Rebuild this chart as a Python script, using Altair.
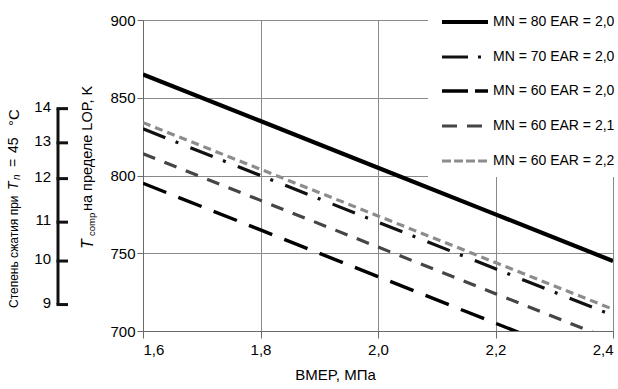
import altair as alt
import pandas as pd

# ---- data ----
bmep = [1.6, 1.8, 2.0, 2.2, 2.4]
mn80_ear20 = [865, 835, 805, 775, 745]
mn70_ear20 = [830, 800, 770, 740, 710]
mn60_ear20 = [795, 765, 735, 705, 675]
mn60_ear21 = [814, 784, 754, 724, 694]
mn60_ear22 = [834, 804, 774, 744, 714]

series_names = ["MN = 80 EAR = 2,0", "MN = 70 EAR = 2,0", "MN = 60 EAR = 2,0",
                "MN = 60 EAR = 2,1", "MN = 60 EAR = 2,2"]
series_values = [mn80_ear20, mn70_ear20, mn60_ear20, mn60_ear21, mn60_ear22]

# compression ratio scale (left auxiliary axis) and its equivalent Tcomp position
cr_labels = ["9", "10", "11", "12", "13", "14"]
cr_tcomp = [717, 745, 770, 798, 821, 843]

x_ticks = [1.6, 1.8, 2.0, 2.2, 2.4]
y_ticks = [700, 750, 800, 850, 900]

FONT = "Liberation Sans, Arial, sans-serif"

styles = [
    dict(color="#000000", strokeWidth=4.2, dash=None, ldash=None),
    dict(color="#111111", strokeWidth=3.2, dash=[24, 11, 3, 13], ldash=[26, 10, 3, 20]),
    dict(color="#000000", strokeWidth=3.4, dash=[25, 13], ldash=[26, 7]),
    dict(color="#454545", strokeWidth=3.2, dash=[13, 10], ldash=[15, 10]),
    dict(color="#8c8c8c", strokeWidth=3.2, dash=[8, 5], ldash=[9, 3]),
]

xs = alt.Scale(domain=[1.6, 2.4], nice=False, zero=False)
ys = alt.Scale(domain=[700, 900], nice=False, zero=False)

layers = []
for i, (name, vals) in enumerate(zip(series_names, series_values)):
    df = pd.DataFrame({"bmep": bmep, "t": vals})
    st = styles[i]
    kw = dict(color=st["color"], strokeWidth=st["strokeWidth"], clip=True)
    if st["dash"]:
        kw["strokeDash"] = st["dash"]
    enc = dict(
        x=alt.X("bmep:Q", scale=xs,
                axis=alt.Axis(values=x_ticks, grid=True, gridColor="#8a8a8a",
                              domainColor="#6a6a6a", tickColor="#6a6a6a", tickSize=7,
                              labelExpr="replace(format(datum.value, '.1f'), '.', ',')",
                              labelFontSize=15, labelFont=FONT, labelColor="#000",
                              labelPadding=4, title="BMEP, МПа", titleFont=FONT,
                              titleFontSize=15, titleFontWeight="normal",
                              titleX=192, titleY=43, titleBaseline="middle",
                              titleColor="#000")),
        y=alt.Y("t:Q", scale=ys,
                axis=alt.Axis(values=y_ticks, grid=True, gridColor="#8a8a8a",
                              domainColor="#6a6a6a", tickColor="#6a6a6a", tickSize=6,
                              labelFontSize=15, labelFont=FONT, labelColor="#000",
                              labelPadding=2, title=None)),
    )
    layers.append(alt.Chart(df).mark_line(**kw).encode(**enc))

# legend background box (covers grid behind legend)
box = alt.Chart(pd.DataFrame({"a": [0]})).mark_rect(color="white").encode(
    x=alt.value(285), x2=alt.value(480), y=alt.value(-20), y2=alt.value(157))
layers.insert(0, box)

# legend entries
leg_y = [2, 37, 71, 106, 141]
for i, name in enumerate(series_names):
    st = styles[i]
    kw = dict(color=st["color"], strokeWidth=st["strokeWidth"])
    if st["ldash"]:
        kw["strokeDash"] = st["ldash"]
    d = pd.DataFrame({"name": [name]})
    layers.append(alt.Chart(d).mark_rule(**kw).encode(
        x=alt.value(299), x2=alt.value(345), y=alt.value(leg_y[i])))
    layers.append(alt.Chart(d).mark_text(align="left", baseline="middle", fontSize=14,
                                         font=FONT, color="#000").encode(
        x=alt.value(350), y=alt.value(leg_y[i]), text="name:N"))

# auxiliary compression-ratio axis
crdf = pd.DataFrame({"cr": cr_labels, "pos": cr_tcomp})
bar = pd.DataFrame({"lo": [min(cr_tcomp)], "hi": [max(cr_tcomp)]})
layers.append(alt.Chart(bar).mark_rule(color="#111", strokeWidth=3, clip=False).encode(
    x=alt.value(-85), y=alt.Y("hi:Q", scale=ys), y2="lo:Q"))
layers.append(alt.Chart(crdf).mark_rule(color="#111", strokeWidth=3, clip=False).encode(
    x=alt.value(-86.5), x2=alt.value(-75), y=alt.Y("pos:Q", scale=ys)))
layers.append(alt.Chart(crdf).mark_text(align="right", baseline="middle", fontSize=15,
                                        font=FONT, color="#000", dy=-2).encode(
    x=alt.value(-92), y=alt.Y("pos:Q", scale=ys), text="cr:N"))

# rotated titles (with italic symbols and subscripts); positions relative to plot origin
def rtext(txt, x, y_abs, size=15, style="normal"):
    return alt.Chart(pd.DataFrame({"s": [txt]})).mark_text(
        angle=270, align="left", baseline="middle", fontSize=size, font=FONT,
        fontStyle=style, color="#000").encode(
        x=alt.value(x), y=alt.value(y_abs - 20), text="s:N")

# Tcomp title
layers.append(rtext("T", -55, 249, 16, "italic"))
layers.append(rtext("comp", -51.5, 236, 9.5))
layers.append(rtext("на пределе LOP, K", -55, 211, 14.5))
# compression ratio title
layers.append(rtext("Степень сжатия при", -129, 308, 12))
layers.append(rtext("T", -129, 190, 14, "italic"))
layers.append(rtext("n", -126, 180, 10, "italic"))
layers.append(rtext("=", -129, 167, 14))
layers.append(rtext("45", -129, 153, 14))
layers.append(rtext("°C", -129, 126, 15))

chart = alt.layer(*layers).properties(
    width=470, height=311,
    autosize=alt.AutoSizeParams(type="none"),
    padding={"left": 143, "top": 20, "right": 5, "bottom": 58},
).configure_view(stroke=None).configure(background="white")

chart.save("out.html", embed_options={"renderer": "svg", "actions": False})
